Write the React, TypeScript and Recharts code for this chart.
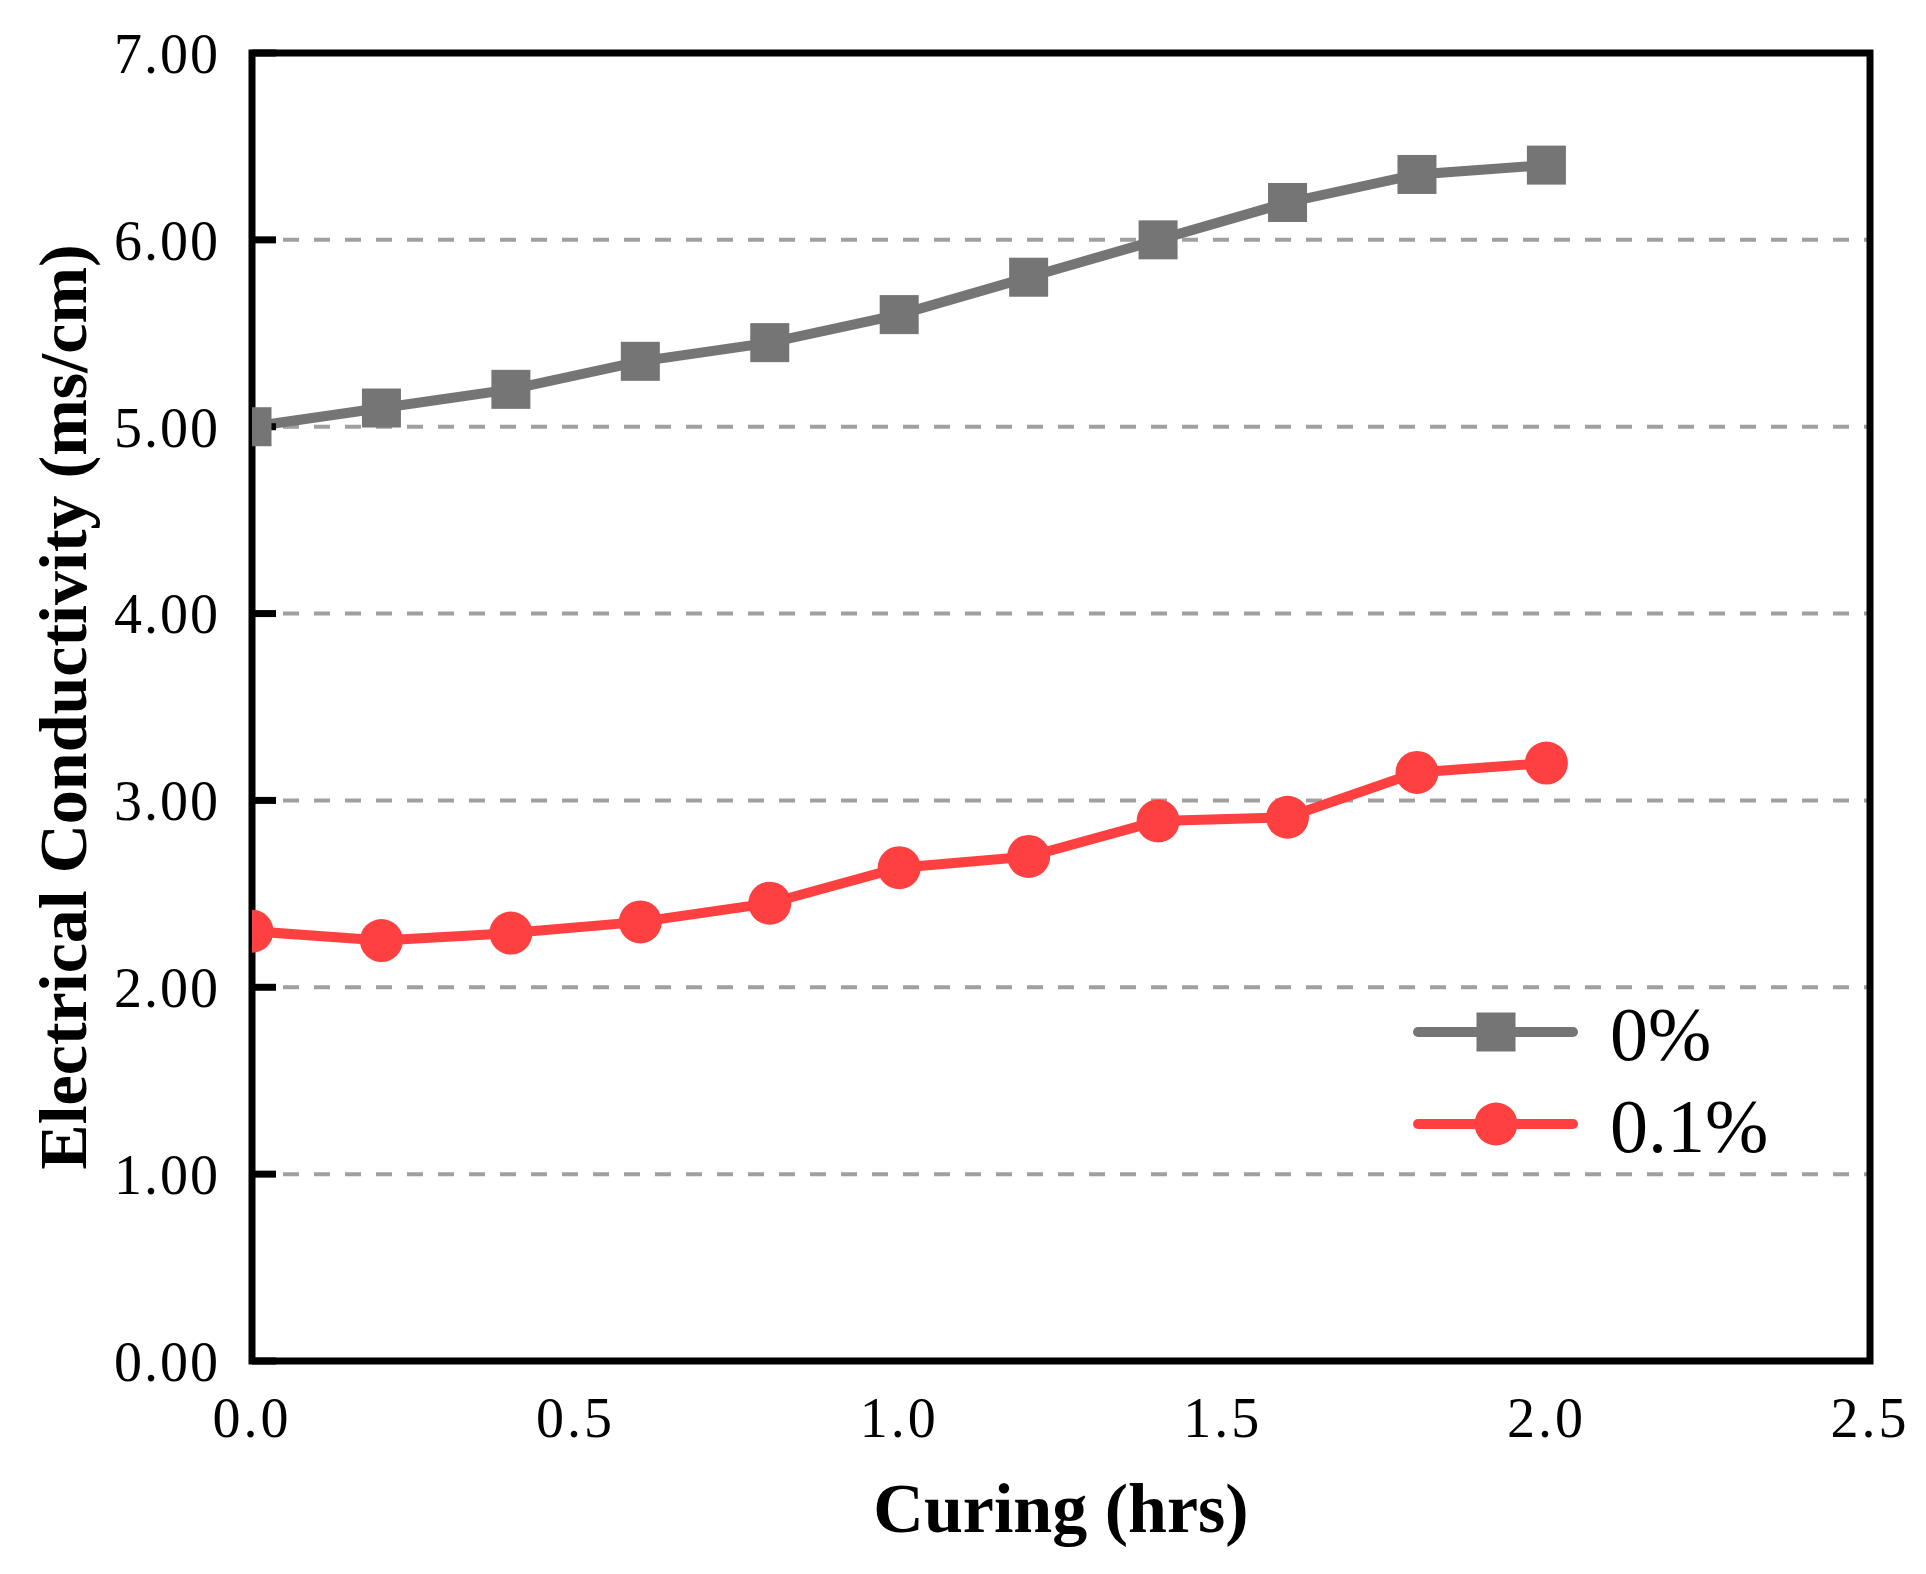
import {
  LineChart,
  Line,
  XAxis,
  YAxis,
  CartesianGrid,
  Legend,
  Label,
  ReferenceArea,
} from "recharts";

const curingHours = [0, 0.2, 0.4, 0.6, 0.8, 1.0, 1.2, 1.4, 1.6, 1.8, 2.0];
const plain = [5.0, 5.1, 5.2, 5.35, 5.45, 5.6, 5.8, 6.0, 6.2, 6.35, 6.4];
const dosed = [2.3, 2.25, 2.29, 2.35, 2.45, 2.64, 2.7, 2.89, 2.91, 3.15, 3.2];
const xTicks = [0, 0.5, 1.0, 1.5, 2.0, 2.5];
const yTicks = [0, 1, 2, 3, 4, 5, 6, 7];

const SERIES = [
  { key: "plain", name: "0%", color: "#757575", marker: "square" },
  { key: "dosed", name: "0.1%", color: "#ff4040", marker: "circle" },
];

const SERIF = "'Liberation Serif', 'Times New Roman', serif";

const data = curingHours.map((h, i) => ({ h, plain: plain[i], dosed: dosed[i] }));

function SquareDot(props: any) {
  const { cx, cy, index } = props;
  if (cx == null || cy == null) return null;
  return (
    <rect key={`sq-${index}`} x={cx - 19.5} y={cy - 19.5} width={39} height={39} fill="#757575" />
  );
}

function XTitle({ viewBox }: any) {
  const cx = viewBox.x + viewBox.width / 2;
  return (
    <text x={cx} y={viewBox.y + 171} textAnchor="middle" fontFamily={SERIF} fontWeight="bold" fontSize={70} fill="#000">
      Curing (hrs)
    </text>
  );
}

function YTitle({ viewBox }: any) {
  const cx = viewBox.x + 63;
  const cy = viewBox.y + viewBox.height / 2;
  return (
    <text
      x={cx}
      y={cy}
      transform={`rotate(-90, ${cx}, ${cy})`}
      textAnchor="middle"
      dominantBaseline="central"
      fontFamily={SERIF}
      fontWeight="bold"
      fontSize={68}
      fill="#000"
    >
      Electrical Conductivity (ms/cm)
    </text>
  );
}

function LegendBox() {
  return (
    <svg width={460} height={220}>
      {SERIES.map((s, i) => {
        const y = 52 + i * 92;
        return (
          <g key={s.key}>
            <line x1={18} x2={173} y1={y} y2={y} stroke={s.color} strokeWidth={10} strokeLinecap="round" />
            {s.marker === "square" ? (
              <rect x={96 - 19.5} y={y - 19.5} width={39} height={39} fill={s.color} />
            ) : (
              <circle cx={96} cy={y} r={21.5} fill={s.color} />
            )}
            <text x={210} y={y + 28} fontFamily={SERIF} fontSize={76} fill="#000">
              {s.name}
            </text>
          </g>
        );
      })}
    </svg>
  );
}

export default function App() {
  return (
    <div style={{ position: "absolute", left: 0, top: 0, width: 1926, height: 1574, background: "#fff" }}>
      <LineChart width={1926} height={1574} data={data} margin={{ top: 53, right: 56, bottom: 0, left: 0 }}>
        <CartesianGrid vertical={false} stroke="#a0a0a0" strokeWidth={4} strokeDasharray="16 15" />
        <XAxis
          dataKey="h"
          type="number"
          domain={[0, 2.5]}
          ticks={xTicks}
          allowDataOverflow
          height={213}
          axisLine={false}
          tickLine={false}
          tickSize={6}
          tickMargin={30}
          tickFormatter={(v: number) => v.toFixed(1)}
          tick={{ fontFamily: SERIF, fontSize: 56, fill: "#000", letterSpacing: 3 }}
        >
          <Label content={<XTitle />} />
        </XAxis>
        <YAxis
          type="number"
          domain={[0, 7]}
          ticks={yTicks}
          width={252}
          axisLine={false}
          tickLine={{ stroke: "#000", strokeWidth: 7 }}
          tickSize={-24}
          tickMargin={56}
          tickFormatter={(v: number) => v.toFixed(2)}
          tick={{ fontFamily: SERIF, fontSize: 56, fill: "#000", letterSpacing: 2 }}
        >
          <Label content={<YTitle />} />
        </YAxis>
        <Legend
          layout="horizontal"
          verticalAlign="middle"
          align="center"
          wrapperStyle={{ left: 1400, top: 980, width: 460, height: 220 }}
          content={() => <LegendBox />}
        />
        <Line
          dataKey="plain"
          name="0%"
          type="linear"
          stroke="#757575"
          strokeWidth={10}
          dot={SquareDot}
          activeDot={false}
          isAnimationActive={false}
        />
        <Line
          dataKey="dosed"
          name="0.1%"
          type="linear"
          stroke="#ff4040"
          strokeWidth={10}
          dot={{ r: 21.5, fill: "#ff4040", stroke: "none" }}
          activeDot={false}
          isAnimationActive={false}
        />
        <ReferenceArea
          x1={0}
          x2={2.5}
          y1={0}
          y2={7}
          fill="none"
          stroke="#000"
          strokeWidth={7}
          fillOpacity={0}
          ifOverflow="visible"
        />
      </LineChart>
    </div>
  );
}
